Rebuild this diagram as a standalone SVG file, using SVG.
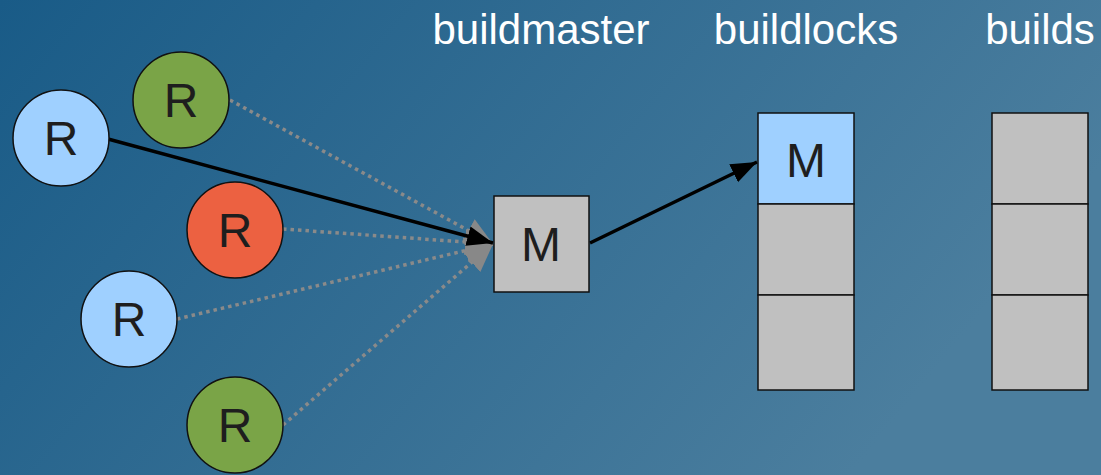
<svg xmlns="http://www.w3.org/2000/svg" width="1101" height="475" viewBox="0 0 1101 475">
<defs>
<linearGradient id="bg" x1="0" y1="0" x2="1" y2="0.35">
<stop offset="0" stop-color="#195b87"/>
<stop offset="1" stop-color="#4b7e9e"/>
</linearGradient>
<marker id="ah" markerUnits="userSpaceOnUse" markerWidth="28" markerHeight="22" refX="26" refY="11" orient="auto" viewBox="0 0 28 22">
<path d="M0,1 L26,11 L0,21 Z" fill="#000"/>
</marker>
<marker id="ahg" markerUnits="userSpaceOnUse" markerWidth="30" markerHeight="28" refX="28" refY="14" orient="auto" viewBox="0 0 30 28">
<path d="M0,1 L28,14 L0,27 Z" fill="#888"/>
</marker>
<style>
.lbl{font-family:"Liberation Sans",Arial,sans-serif;font-size:42px;fill:#fff;text-anchor:middle}
.nt{font-family:"Liberation Sans",Arial,sans-serif;font-size:48px;fill:#1e1e1e;text-anchor:middle}
.circ{stroke:#111;stroke-width:1.5}
.box{fill:#c0c0c0;stroke:#111;stroke-width:1.5}
.dot{stroke:#8a8a8a;stroke-width:3.5;stroke-dasharray:3.5 4;fill:none}
.sol{stroke:#000;stroke-width:3.5;fill:none}
</style>
</defs>
<rect x="0" y="0" width="1101" height="475" fill="url(#bg)"/>
<g id="headers">
<text class="lbl" x="541" y="44">buildmaster</text>
<text class="lbl" x="806" y="44">buildlocks</text>
<text class="lbl" x="1040" y="44">builds</text>
</g>
<g id="connectors">
<line class="dot" x1="230" y1="100" x2="493" y2="244" marker-end="url(#ahg)"/>
<line class="dot" x1="283" y1="229" x2="493" y2="244" marker-end="url(#ahg)"/>
<line class="dot" x1="177" y1="319" x2="493" y2="244" marker-end="url(#ahg)"/>
<line class="dot" x1="283" y1="425" x2="493" y2="244" marker-end="url(#ahg)"/>
<line class="sol" x1="108" y1="139" x2="493" y2="243" marker-end="url(#ah)"/>
<line class="sol" x1="590" y1="243" x2="757" y2="162" marker-end="url(#ah)"/>
</g>
<g id="r-green-top"><circle class="circ" cx="181" cy="100" r="48" fill="#7aa447"/><text class="nt" x="181" y="117">R</text></g>
<g id="r-blue-top"><circle class="circ" cx="61" cy="138" r="48" fill="#9fd0ff"/><text class="nt" x="61" y="155">R</text></g>
<g id="r-red"><circle class="circ" cx="235" cy="230" r="48" fill="#ec6141"/><text class="nt" x="235" y="247">R</text></g>
<g id="r-blue-bottom"><circle class="circ" cx="129" cy="319" r="48" fill="#9fd0ff"/><text class="nt" x="129" y="336">R</text></g>
<g id="r-green-bottom"><circle class="circ" cx="235" cy="425" r="48" fill="#7aa447"/><text class="nt" x="235" y="442">R</text></g>
<g id="buildmaster"><rect class="box" x="494" y="196" width="95" height="96"/><text class="nt" x="541" y="261">M</text></g>
<g id="buildlocks">
<rect class="box" x="758" y="113" width="96" height="91" style="fill:#9fd0ff"/>
<text class="nt" x="806" y="177">M</text>
<rect class="box" x="758" y="204" width="96" height="91"/>
<rect class="box" x="758" y="295" width="96" height="95"/>
</g>
<g id="builds">
<rect class="box" x="992" y="113" width="96" height="91"/>
<rect class="box" x="992" y="204" width="96" height="91"/>
<rect class="box" x="992" y="295" width="96" height="95"/>
</g>
</svg>
